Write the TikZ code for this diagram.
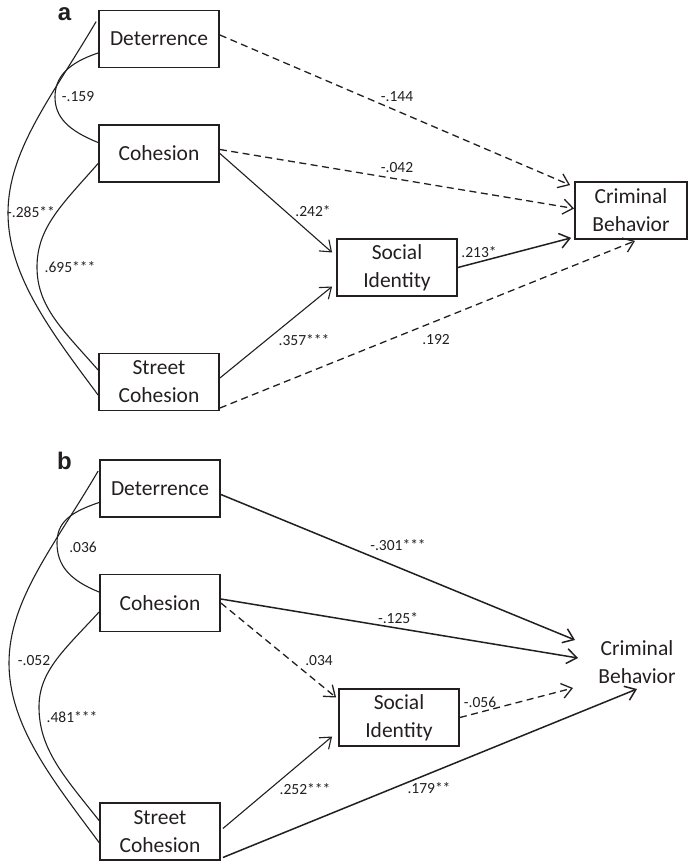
\documentclass[tikz,border=0pt]{standalone}
\usepackage{fontspec}
\setmainfont{Carlito}
\newfontfamily\panelfont{Liberation Sans}
\usetikzlibrary{arrows.meta,calc}
\definecolor{ink}{HTML}{231F20}
\begin{document}
\begin{tikzpicture}[x=1pt,y=-1pt,
  box/.style={draw=ink,line width=1.8pt,minimum width=120pt,minimum height=57pt,inner sep=0pt,align=center,font=\fontsize{21.5}{28}\selectfont,text=ink},
  lab/.style={font=\fontsize{15.5}{18}\selectfont,text=ink,inner sep=0pt},
  panel/.style={font=\panelfont\bfseries\fontsize{24}{28}\selectfont,text=ink,inner sep=0pt},
  corr/.style={draw=ink,line width=1.1pt},
  tip/.style={-{Straight Barb[length=10pt,width=15pt]}},
  thinpath/.style={draw=ink,line width=1.1pt,tip},
  thickpath/.style={draw=ink,line width=1.5pt,tip},
  dashpath/.style={draw=ink,line width=1.3pt,tip,dash pattern=on 7pt off 4.5pt},
]
\useasboundingbox (0,0) rectangle (688,861);

% ---------------- panel a ----------------
\node[panel] (pa) at (64.5,14.5) {a};
\node[box] (detA) at (159,39) {Deterrence};
\node[box] (cohA) at (159,153.5) {Cohesion};
\node[box] (scA) at (159,382) {Street\\Cohesion};
\node[box] (siA) at (397,267.5) {Social\\Identity};
\node[box,minimum width=112pt] (cbA) at (631,210.5) {Criminal\\Behavior};

\coordinate (mA1) at (55,97);
\coordinate (mA2) at (8,213);
\coordinate (mA3) at (37,267);

\draw[corr] ($(detA.west)+(0,14)$) .. controls +(-30,10) and +(0,-20) .. (mA1)
  .. controls +(0,20) and +(-30,-12) .. ($(cohA.west)+(0,-11)$);
\draw[corr] ($(detA.north west)+(-2,12)$) .. controls +(-44,75) and +(0,-63) .. (mA2)
  .. controls +(0,63) and +(-46,-62) .. ($(scA.west)+(0,13)$);
\draw[corr] ($(cohA.west)+(0,10)$) .. controls +(-35,40) and +(0,-40) .. (mA3)
  .. controls +(0,40) and +(-35,-40) .. ($(scA.west)+(0,-12)$);

\draw[dashpath] ($(detA.east)+(0,-4)$) -- ($(cbA.north west)+(-4,4)$);
\draw[dashpath] ($(cohA.east)+(0,-4)$) -- ($(cbA.west)+(0,-2)$);
\draw[thinpath] (cohA.east) -- ($(siA.west)+(-4,-15)$);
\draw[thinpath] ($(scA.east)+(0,-4)$) -- ($(siA.west)+(-4,19)$);
\draw[thickpath] (siA.east) -- ($(cbA.south west)+(-3,-2)$);
\draw[dashpath] ($(scA.east)+(0,26)$) -- ($(cbA.south)+(4,1)$);

\node[lab] (lA1) at (78,97) {-.159};
\node[lab] (lA2) at (31,212) {-.285**};
\node[lab] (lA3) at (70,267) {.695***};
\node[lab] (lA4) at (397,97) {-.144};
\node[lab] (lA5) at (397,168) {-.042};
\node[lab] (lA6) at (313,211) {.242*};
\node[lab] (lA7) at (479,252) {.213*};
\node[lab] (lA8) at (304,340) {.357***};
\node[lab] (lA9) at (436,340) {.192};

% ---------------- panel b ----------------
\node[panel] (pb) at (64.5,461) {b};
\node[box] (detB) at (160,488.5) {Deterrence};
\node[box] (cohB) at (160,603) {Cohesion};
\node[box] (scB) at (160,831.5) {Street\\Cohesion};
\node[box] (siB) at (399,717.5) {Social\\Identity};
\node[align=center,inner sep=0pt,font=\fontsize{21.5}{28}\selectfont,text=ink] (cbB) at (637,662) {Criminal\\Behavior};

\coordinate (tB1) at (575,640);
\coordinate (tB2) at (578,658);
\coordinate (tB3) at (573,688);
\coordinate (tB4) at (637,689);

\coordinate (mB1) at (57,543);
\coordinate (mB2) at (9,663);
\coordinate (mB3) at (39,707);

\draw[corr] ($(detB.west)+(0,14)$) .. controls +(-30,10) and +(0,-20) .. (mB1)
  .. controls +(0,22) and +(-30,-12) .. ($(cohB.west)+(0,-11)$);
\draw[corr] ($(detB.north west)+(-1,12)$) .. controls +(-44,75) and +(0,-63) .. (mB2)
  .. controls +(0,63) and +(-46,-62) .. ($(scB.west)+(0,11)$);
\draw[corr] ($(cohB.west)+(0,9)$) .. controls +(-35,38) and +(0,-36) .. (mB3)
  .. controls +(0,42) and +(-35,-44) .. ($(scB.west)+(0,-11)$);

\draw[thickpath] ($(detB.east)+(0,6)$) -- (tB1);
\draw[thickpath] ($(cohB.east)+(0,-4)$) -- (tB2);
\draw[dashpath] (cohB.east) -- ($(siB.west)+(-2,-20)$);
\draw[thinpath] ($(scB.east)+(2,-3)$) -- ($(siB.west)+(-6,19)$);
\draw[dashpath] (siB.east) -- (tB3);
\draw[thickpath] ($(scB.east)+(2,26)$) -- (tB4);

\node[lab] (lB1) at (83,547) {.036};
\node[lab] (lB2) at (34,661) {-.052};
\node[lab] (lB3) at (72,717) {.481***};
\node[lab] (lB4) at (398,545) {-.301***};
\node[lab] (lB5) at (398,618) {-.125*};
\node[lab] (lB6) at (319,661) {.034};
\node[lab] (lB7) at (480,702) {-.056};
\node[lab] (lB8) at (305,789) {.252***};
\node[lab] (lB9) at (429,788) {.179**};
\end{tikzpicture}
\end{document}
